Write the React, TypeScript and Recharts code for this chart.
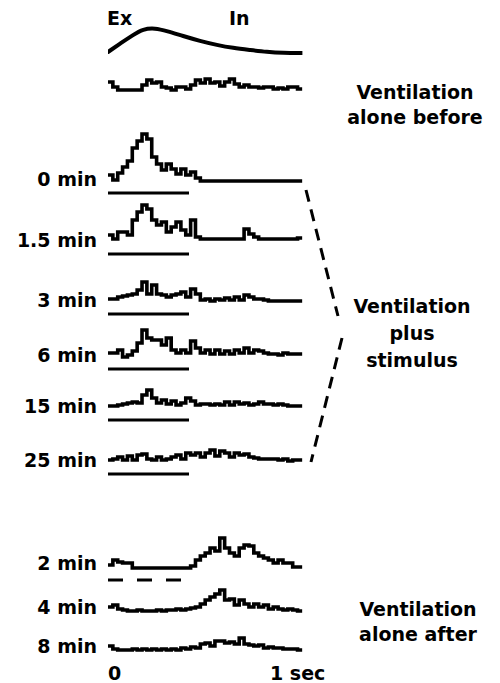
import React from 'react';
import { LineChart, Line, XAxis, YAxis, ReferenceLine } from 'recharts';

// ---------- data ----------
const BIN_WIDTH = 0.03; // seconds per histogram bin
const T_MAX = 1.2; // seconds shown per ventilation cycle
const STIM_START = 0;
const STIM_END = 0.5;

// ventilation (lung volume) waveform, arbitrary units
const ventilationTimes = [0, 0.08, 0.154, 0.216, 0.29, 0.364, 0.463, 0.568, 0.673, 0.772, 0.877, 0.981, 1.08, 1.2];
const ventilationVolume = [8, 17, 25, 31, 32, 29, 24, 19, 15, 12, 10, 8, 7, 7];

// spike-count histograms (40 bins each)
const countsBefore = [8, 3, 0, 0, 0, 0, 0, 5, 10, 7, 8, 3, 2, 0, 3, 3, 1, 5, 10, 7, 11, 7, 8, 4, 8, 11, 6, 3, 5, 3, 3, 2, 3, 3, 1, 2, 1, 3, 3, 1];
const counts0min = [6, 1, 8, 14, 20, 33, 40, 47, 42, 24, 17, 11, 17, 12, 7, 12, 6, 9, 3, 0, 0, 0, 0, 0, 0, 0, 0, 0, 0, 0, 0, 0, 0, 0, 0, 0, 0, 0, 0, 0];
const counts1_5min = [7, 3, 10, 10, 7, 22, 30, 37, 33, 22, 17, 20, 10, 15, 20, 12, 7, 22, 5, 3, 3, 3, 3, 3, 3, 3, 3, 3, 13, 8, 5, 3, 3, 3, 3, 3, 3, 3, 3, 4];
const counts3min = [3, 3, 5, 6, 7, 8, 12, 20, 8, 17, 8, 7, 5, 7, 8, 10, 5, 13, 8, 2, 3, 1, 3, 2, 4, 2, 5, 2, 7, 5, 3, 3, 2, 1, 1, 1, 1, 1, 1, 1];
const counts6min = [4, 4, 7, 0, 2, 6, 14, 27, 19, 17, 17, 12, 19, 7, 4, 7, 4, 16, 9, 4, 7, 3, 7, 3, 6, 3, 7, 4, 9, 4, 7, 6, 4, 3, 3, 2, 4, 3, 3, 3];
const counts15min = [2, 2, 3, 4, 5, 6, 5, 13, 18, 10, 5, 8, 4, 7, 3, 5, 10, 7, 3, 4, 4, 3, 4, 3, 6, 3, 6, 4, 5, 3, 4, 6, 4, 4, 3, 4, 3, 2, 2, 2];
const counts25min = [2, 3, 5, 2, 6, 2, 7, 8, 3, 2, 5, 2, 3, 5, 7, 3, 9, 7, 9, 5, 9, 12, 6, 11, 9, 5, 9, 7, 8, 5, 4, 3, 3, 3, 3, 2, 3, 1, 2, 2];
const countsAfter2min = [3, 8, 6, 5, 5, 0, 0, 0, 0, 0, 0, 0, 0, 0, 0, 0, 0, 2, 8, 12, 15, 20, 17, 30, 20, 15, 12, 20, 23, 22, 15, 12, 10, 8, 5, 8, 5, 5, 1, 1];
const countsAfter4min = [5, 7, 3, 2, 1, 1, 2, 1, 1, 1, 2, 1, 2, 2, 3, 2, 3, 4, 5, 8, 12, 15, 18, 22, 12, 13, 7, 12, 8, 5, 8, 5, 7, 3, 5, 3, 2, 3, 2, 1];
const countsAfter8min = [5, 2, 1, 1, 1, 2, 1, 2, 1, 2, 1, 2, 1, 2, 1, 3, 2, 4, 3, 7, 8, 5, 10, 10, 8, 9, 7, 13, 7, 6, 5, 6, 3, 4, 3, 3, 2, 2, 2, 1];

// labels
const phaseLabels = ['Ex', 'In'];
const stimulusTimeLabels = ['0 min', '1.5 min', '3 min', '6 min', '15 min', '25 min'];
const afterTimeLabels = ['2 min', '4 min', '8 min'];
const groupLabelBefore = ['Ventilation', 'alone before'];
const groupLabelStim = ['Ventilation', 'plus', 'stimulus'];
const groupLabelAfter = ['Ventilation', 'alone after'];
const timeTicks = [0, 1];
const timeTickLabels = ['0', '1 sec'];

// ---------- layout / style ----------
const W = 500;
const H = 683;
const PLOT_LEFT = 108;
const PLOT_W = 194.4;
const ABOVE = 55; // px above baseline inside each trace chart
const BELOW = 20; // px below baseline
const STIM_OFFSET = -12; // stimulus bar below baseline
const FONT: React.CSSProperties = {
  fontFamily: "'DejaVu Sans', sans-serif",
  fontWeight: 'bold',
  fontSize: 19,
};

const toRows = (counts: number[]) => {
  const rows = counts.map((v, i) => ({ t: i * BIN_WIDTH, v }));
  rows.push({ t: counts.length * BIN_WIDTH, v: counts[counts.length - 1] });
  return rows;
};

const TimeTick = (props: any) => {
  const { x, y, payload } = props;
  const label = timeTickLabels[timeTicks.indexOf(payload.value)];
  return (
    <text x={x} y={y} dy={9} textAnchor="start" fill="#000" style={FONT}>
      {label}
    </text>
  );
};

type TraceProps = {
  counts: number[];
  baseline: number;
  stim?: 'solid' | 'dashed';
  showAxis?: boolean;
};

const Trace = ({ counts, baseline, stim, showAxis }: TraceProps) => {
  const axisH = showAxis ? 30 : 0;
  return (
    <div style={{ position: 'absolute', left: 0, top: baseline - ABOVE }}>
      <LineChart
        width={W}
        height={ABOVE + BELOW + axisH}
        data={toRows(counts)}
        margin={{ top: 0, right: W - PLOT_LEFT - PLOT_W, bottom: 0, left: PLOT_LEFT }}
      >
        <XAxis
          type="number"
          dataKey="t"
          domain={[0, T_MAX]}
          allowDataOverflow
          hide={!showAxis}
          height={axisH}
          ticks={timeTicks}
          axisLine={false}
          tickLine={false}
          tickSize={0}
          tickMargin={0}
          tick={<TimeTick />}
          interval={0}
        />
        <YAxis type="number" domain={[-BELOW, ABOVE]} allowDataOverflow hide />
        <Line
          type="stepAfter"
          dataKey="v"
          stroke="#000"
          strokeWidth={3.6}
          strokeLinejoin="miter"
          strokeLinecap="butt"
          dot={false}
          activeDot={false}
          isAnimationActive={false}
        />
        {stim && (
          <ReferenceLine
            segment={[
              { x: STIM_START, y: STIM_OFFSET },
              { x: STIM_END, y: STIM_OFFSET },
            ]}
            stroke="#000"
            strokeWidth={3.2}
            strokeDasharray={stim === 'dashed' ? '15 14' : undefined}
            ifOverflow="visible"
          />
        )}
      </LineChart>
    </div>
  );
};

const ventRows = ventilationTimes.map((t, i) => ({ t, v: ventilationVolume[i] }));

const VentilationCurve = ({ baseline }: { baseline: number }) => (
  <div style={{ position: 'absolute', left: 0, top: baseline - ABOVE }}>
    <LineChart
      width={W}
      height={ABOVE + BELOW}
      data={ventRows}
      margin={{ top: 0, right: W - PLOT_LEFT - PLOT_W, bottom: 0, left: PLOT_LEFT }}
    >
      <XAxis type="number" dataKey="t" domain={[0, T_MAX]} allowDataOverflow hide />
      <YAxis type="number" domain={[-BELOW, ABOVE]} allowDataOverflow hide />
      <Line
        type="basis"
        dataKey="v"
        stroke="#000"
        strokeWidth={4}
        strokeLinecap="round"
        dot={false}
        activeDot={false}
        isAnimationActive={false}
      />
    </LineChart>
  </div>
);

const stimCounts = [counts0min, counts1_5min, counts3min, counts6min, counts15min, counts25min];
const afterCounts = [countsAfter2min, countsAfter4min, countsAfter8min];
const stimBaselines = [181, 242, 302, 357, 408, 462];
const afterBaselines = [568, 612, 651];
const beforeBaseline = 90;
const ventBaseline = 60;

export default function App() {
  return (
    <div style={{ position: 'absolute', left: 0, top: 0, width: W, height: H, background: '#fff', overflow: 'hidden' }}>
      <VentilationCurve baseline={ventBaseline} />
      <Trace counts={countsBefore} baseline={beforeBaseline} />
      {stimCounts.map((c, i) => (
        <Trace key={'s' + i} counts={c} baseline={stimBaselines[i]} stim="solid" />
      ))}
      {afterCounts.map((c, i) => (
        <Trace
          key={'a' + i}
          counts={c}
          baseline={afterBaselines[i]}
          stim={i === 0 ? 'dashed' : undefined}
          showAxis={i === afterCounts.length - 1}
        />
      ))}
      <svg width={W} height={H} style={{ position: 'absolute', left: 0, top: 0, pointerEvents: 'none' }}>
        <g style={FONT} fill="#000">
          <text x={107} y={25}>{phaseLabels[0]}</text>
          <text x={229} y={25}>{phaseLabels[1]}</text>
          {stimulusTimeLabels.map((l, i) => (
            <text key={l} x={97} y={stimBaselines[i] + 5} textAnchor="end">{l}</text>
          ))}
          {afterTimeLabels.map((l, i) => (
            <text key={l} x={97} y={afterBaselines[i] + 2} textAnchor="end">{l}</text>
          ))}
          {groupLabelBefore.map((l, i) => (
            <text key={l} x={415} y={99 + i * 25} textAnchor="middle">{l}</text>
          ))}
          {groupLabelStim.map((l, i) => (
            <text key={l} x={412} y={313 + i * 27} textAnchor="middle">{l}</text>
          ))}
          {groupLabelAfter.map((l, i) => (
            <text key={l} x={418} y={616 + i * 25} textAnchor="middle">{l}</text>
          ))}
        </g>
        <g stroke="#000" strokeWidth={3} strokeDasharray="12 8" fill="none">
          <line x1={306} y1={190} x2={338} y2={316} />
          <line x1={342} y1={338} x2={311} y2={462} />
        </g>
      </svg>
    </div>
  );
}
